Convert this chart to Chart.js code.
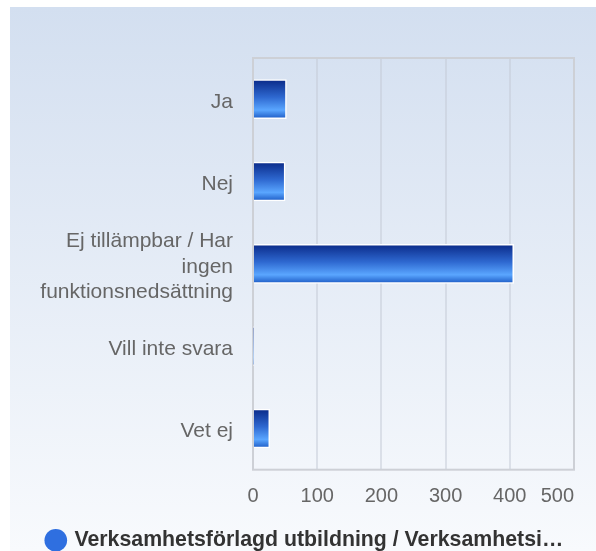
<!DOCTYPE html>
<html>
<head>
<meta charset="utf-8">
<script src="https://cdn.jsdelivr.net/npm/chart.js@4.4.1/dist/chart.umd.min.js"></script>
<style>
  html, body { margin: 0; padding: 0; background: #fff; }
  #wrap { width: 596px; height: 551px; }
</style>
</head>
<body>
<div id="wrap"><canvas id="chart" width="596" height="551"></canvas></div>
<script>
const categories = ["Ja", "Nej", ["Ej tillämpbar / Har", "ingen", "funktionsnedsättning"], "Vill inte svara", "Vet ej"];
const values = [52, 50, 406, 1, 26];
const xTicks = [0, 100, 200, 300, 400, 500];
const seriesName = "Verksamhetsförlagd utbildning / Verksamhetsi…";

const FONT = "'Liberation Sans', Arial, sans-serif";
const BAR_H = 39;

// panel background with soft vertical gradient
const panelBg = {
  id: "panelBg",
  beforeDraw(chart) {
    const ctx = chart.ctx;
    ctx.save();
    ctx.fillStyle = "#fff";
    ctx.fillRect(0, 0, chart.width, chart.height);
    let g = ctx.createLinearGradient(0, 7, 0, chart.height);
    g.addColorStop(0, "#d3dff0");
    g.addColorStop(1, "#f8fafd");
    ctx.fillStyle = g;
    ctx.fillRect(10, 7, chart.width - 10, chart.height - 7);
    ctx.restore();
  }
};

// frame around the plot area
const plotFrame = {
  id: "plotFrame",
  beforeDatasetsDraw(chart) {
    const a = chart.chartArea;
    const ctx = chart.ctx;
    ctx.save();
    ctx.strokeStyle = "#cdd0d6";
    ctx.lineWidth = 2;
    ctx.strokeRect(a.left, a.top, a.right - a.left, a.bottom - a.top);
    ctx.restore();
  }
};

function barGradient(c) {
  const chart = c.chart;
  const ys = chart.scales.y;
  if (!ys || c.type !== "data") return "#2f6fe0";
  const yc = ys.getPixelForValue(c.dataIndex);
  if (!isFinite(yc)) return "#2f6fe0";
  const g = chart.ctx.createLinearGradient(0, yc - BAR_H / 2, 0, yc + BAR_H / 2);
  g.addColorStop(0, "#0a2a88");
  g.addColorStop(0.45, "#2e68d0");
  g.addColorStop(0.78, "#5aa6ff");
  g.addColorStop(1, "#1c5ac4");
  return g;
}

new Chart(document.getElementById("chart"), {
  type: "bar",
  data: {
    labels: categories,
    datasets: [{
      label: seriesName,
      data: values,
      backgroundColor: barGradient,
      borderColor: "#ffffff",
      borderWidth: 1.5,
      barThickness: BAR_H
    }]
  },
  options: {
    indexAxis: "y",
    responsive: false,
    animation: false,
    layout: { padding: { left: 37, top: 58, right: 22, bottom: -10 } },
    scales: {
      x: {
        min: 0,
        max: 500,
        afterBuildTicks(scale) {
          scale.ticks = xTicks.map(v => ({ value: v }));
        },
        afterFit(scale) {
          scale.height = 50;
          scale.paddingLeft = 0;
          scale.paddingRight = 0;
        },
        grid: { color: "rgba(196,202,214,0.5)", lineWidth: 2, drawTicks: false },
        border: { display: false },
        ticks: {
          padding: 15,
          autoSkip: false,
          color: "#666666",
          font: { family: FONT, size: 20 },
          maxRotation: 0,
          callback(v) {
            // last label is nudged inside the plot edge
            return v === xTicks[xTicks.length - 1] ? v + "      " : String(v);
          }
        }
      },
      y: {
        afterFit(scale) { scale.width = 216; },
        grid: { display: false },
        border: { display: true, color: "#c6ccd6", width: 2 },
        ticks: {
          padding: 12,
          labelOffset: 3,
          color: "#666666",
          font: { family: FONT, size: 21, lineHeight: 1.2 }
        }
      }
    },
    plugins: {
      legend: {
        position: "bottom",
        labels: {
          usePointStyle: true,
          pointStyle: "circle",
          boxWidth: 16,
          boxHeight: 16,
          padding: 10,
          color: "#333333",
          font: { family: FONT, size: 21.3, weight: "bold" },
          generateLabels(chart) {
            const items = Chart.defaults.plugins.legend.labels.generateLabels(chart);
            items.forEach(it => { it.fillStyle = "#2f6fe0"; it.strokeStyle = "#2f6fe0"; it.lineWidth = 0; });
            return items;
          }
        }
      },
      tooltip: { enabled: false }
    }
  },
  plugins: [panelBg, plotFrame]
});
</script>
</body>
</html>
